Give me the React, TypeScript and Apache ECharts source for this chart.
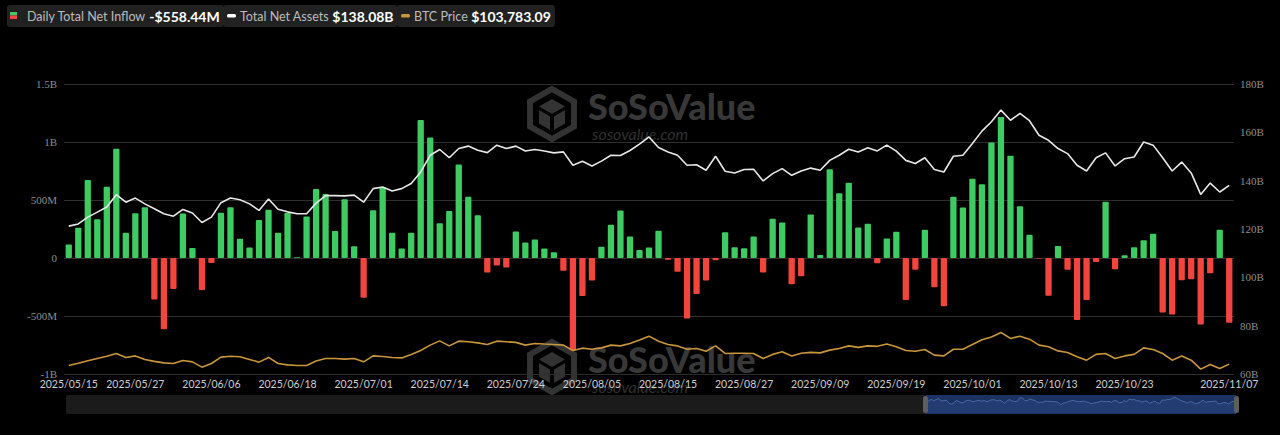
import React, { useEffect, useRef } from "react";
import * as echarts from "echarts";

const dates = [
  "2025/05/15","2025/05/16","2025/05/19","2025/05/20","2025/05/21","2025/05/22","2025/05/23","2025/05/27","2025/05/28","2025/05/29","2025/05/30",
  "2025/06/02","2025/06/03","2025/06/04","2025/06/05","2025/06/06","2025/06/09","2025/06/10","2025/06/11","2025/06/12","2025/06/13","2025/06/16","2025/06/17","2025/06/18","2025/06/20","2025/06/23","2025/06/24","2025/06/25","2025/06/26","2025/06/27","2025/06/30",
  "2025/07/01","2025/07/02","2025/07/03","2025/07/07","2025/07/08","2025/07/09","2025/07/10","2025/07/11","2025/07/14","2025/07/15","2025/07/16","2025/07/17","2025/07/18","2025/07/21","2025/07/22","2025/07/23","2025/07/24","2025/07/25","2025/07/28","2025/07/29","2025/07/30","2025/07/31",
  "2025/08/01","2025/08/04","2025/08/05","2025/08/06","2025/08/07","2025/08/08","2025/08/11","2025/08/12","2025/08/13","2025/08/14","2025/08/15","2025/08/18","2025/08/19","2025/08/20","2025/08/21","2025/08/22","2025/08/25","2025/08/26","2025/08/27","2025/08/28","2025/08/29",
  "2025/09/02","2025/09/03","2025/09/04","2025/09/05","2025/09/08","2025/09/09","2025/09/10","2025/09/11","2025/09/12","2025/09/15","2025/09/16","2025/09/17","2025/09/18","2025/09/19","2025/09/22","2025/09/23","2025/09/24","2025/09/25","2025/09/26","2025/09/29","2025/09/30",
  "2025/10/01","2025/10/02","2025/10/03","2025/10/06","2025/10/07","2025/10/08","2025/10/09","2025/10/10","2025/10/13","2025/10/14","2025/10/15","2025/10/16","2025/10/17","2025/10/20","2025/10/21","2025/10/22","2025/10/23","2025/10/24","2025/10/27","2025/10/28","2025/10/29","2025/10/30","2025/10/31",
  "2025/11/03","2025/11/04","2025/11/05","2025/11/06","2025/11/07",
];

// Daily total net inflow, in millions of USD
const netInflow = [
  116, 261, 672, 333, 615, 942, 217, 386, 438, -357,
  -615, -267, 383, 87, -275, -44, 391, 438, 165, 90,
  328, 417, 217, 391, 6, 357, 594, 551, 232, 507,
  101, -342, 412, 609, 217, 81, 217, 1189, 1038, 299,
  406, 806, 528, 368, -125, -64, -81, 229, 133, 159,
  81, 49, -110, -797, -328, -194, 96, 287, 409, 186,
  70, 90, 235, -15, -119, -522, -310, -194, -20, 223,
  93, 84, 186, -125, 339, 307, -226, -157, 374, 26,
  765, 559, 649, 264, 296, -46, 168, 226, -362, -101,
  243, -252, -415, 528, 435, 684, 635, 995, 1215, 882,
  447, 200, -4.5, -325, 104, -102, -534, -363, -35, 484,
  -96, 23, 93, 154, 209, -470, -487, -191, -183, -574,
  -131, 244, -558.44,
];

// Total net assets, in billions of USD
const netAssets = [
  121.2, 122.1, 124.9, 127.0, 129.1, 134.2, 131.1, 132.8, 130.4, 128.4,
  126.3, 125.3, 128.1, 126.6, 122.7, 124.9, 130.9, 132.8, 132.1, 130.4,
  127.7, 132.4, 128.2, 127.1, 126.3, 126.3, 130.7, 133.8, 133.8, 133.7,
  134.0, 131.1, 136.7, 137.4, 135.7, 136.7, 138.8, 143.6, 150.5, 152.9,
  149.5, 153.3, 154.3, 152.6, 151.6, 154.7, 153.3, 154.3, 152.3, 152.9,
  152.3, 151.5, 151.9, 146.4, 148.0, 146.1, 148.1, 150.5, 150.4, 152.5,
  155.1, 158.1, 153.7, 151.9, 150.5, 146.4, 146.6, 144.3, 150.1, 143.9,
  143.2, 144.6, 144.7, 139.9, 142.9, 145.0, 142.2, 144.0, 145.2, 144.3,
  148.4, 150.5, 153.0, 151.9, 153.6, 152.3, 154.7, 152.2, 148.4, 147.1,
  149.5, 144.6, 143.6, 150.1, 150.5, 155.4, 160.5, 164.4, 169.2, 165.0,
  167.8, 164.8, 158.8, 156.7, 153.3, 151.2, 146.4, 144.0, 149.5, 151.5,
  146.1, 149.1, 149.8, 156.0, 154.7, 149.5, 144.0, 147.7, 143.2, 134.3,
  139.0, 135.3, 138.08,
];

// BTC price, USD
const btcPrice = [
  102900, 104400, 106000, 107500, 109000, 110800, 108200, 109200, 106900, 105600,
  104600, 104200, 106200, 105300, 101800, 104200, 108400, 109000, 108600, 106900,
  105100, 108200, 104200, 103300, 102900, 102900, 105800, 107500, 107500, 107100,
  107500, 105300, 109200, 108800, 108200, 107900, 110200, 112800, 116300, 119100,
  115800, 118900, 118500, 117800, 116700, 118900, 118500, 118100, 116300, 117400,
  117000, 116700, 116300, 112800, 114300, 113600, 114500, 116300, 115800, 117400,
  119600, 122200, 118900, 116700, 115800, 113600, 114100, 112300, 115800, 110800,
  111000, 111000, 110800, 107500, 110200, 111900, 109200, 111000, 111500, 111200,
  113000, 114100, 115800, 114800, 115800, 115500, 117000, 115200, 112800, 112300,
  113400, 109700, 109200, 113600, 113600, 116700, 119800, 121700, 124600, 120700,
  122200, 120200, 116300, 115200, 112500, 111500, 108600, 106400, 110200, 110800,
  107500, 109200, 110200, 114500, 113400, 110800, 106400, 109200, 106400, 100500,
  103600, 100900, 103783.09,
];

const xTickLabels = [
  "2025/05/15","2025/05/27","2025/06/06","2025/06/18","2025/07/01","2025/07/14","2025/07/24","2025/08/05",
  "2025/08/15","2025/08/27","2025/09/09","2025/09/19","2025/10/01","2025/10/13","2025/10/23","2025/11/07",
];

const legendNames = ["Daily Total Net Inflow", "Total Net Assets", "BTC Price"];
const legendValues = ["-$558.44M", "$138.08B", "$103,783.09"];

const GREEN = "#3ecb61";
const RED = "#f2453d";
const WHITE_LINE = "#e8e8e8";
const GOLD = "#c9963c";

function fmtLeft(v: number) {
  if (v === 0) return "0";
  if (Math.abs(v) >= 1000) return v / 1000 + "B";
  return v + "M";
}

function watermark(x: number, y: number) {
  const c = "#333333";
  return {
    type: "group",
    x,
    y,
    z: 1,
    silent: true,
    children: [
      {
        type: "polygon",
        shape: { points: [[25, 3], [47, 15.5], [47, 40.5], [25, 53], [3, 40.5], [3, 15.5]] },
        style: { fill: "none", stroke: c, lineWidth: 6 },
      },
      {
        type: "polygon",
        shape: { points: [[25, 13], [38, 20.5], [25, 28], [12, 20.5]] },
        style: { fill: c },
      },
      {
        type: "polygon",
        shape: { points: [[12, 24], [23, 30.5], [23, 44], [12, 37.5]] },
        style: { fill: c },
      },
      {
        type: "polygon",
        shape: { points: [[38, 24], [27, 30.5], [27, 44], [38, 37.5]] },
        style: { fill: c },
      },
      {
        type: "text",
        x: 61,
        y: 2,
        style: { text: "SoSoValue", fill: "#383838", font: "900 36px Lato", textVerticalAlign: "top" },
      },
      {
        type: "text",
        x: 65,
        y: 39,
        style: { text: "sosovalue.com", fill: "#303030", font: "italic 16px Lato", textVerticalAlign: "top" },
      },
    ],
  };
}

function legendBox(x: number, i: number, padLeft: number) {
  return {
    type: "text",
    x,
    y: 5,
    z: 20,
    style: {
      text: `{l|${legendNames[i]}} {v|${legendValues[i]}}`,
      backgroundColor: "#212121",
      borderRadius: 3,
      padding: [3, 4, 3, padLeft],
      rich: {
        l: { fontSize: 12.5, fontFamily: "Lato", fill: "#bcbcbc", lineHeight: 16 },
        v: { fontSize: 14, fontFamily: "Lato", fontWeight: "bold", fill: "#ffffff", lineHeight: 16 },
      },
    },
  };
}

export default function App() {
  const ref = useRef<HTMLDivElement>(null);

  useEffect(() => {
    if (!ref.current) return;
    const chart = echarts.init(ref.current, null, { renderer: "svg" });

    const option: any = {
      animation: false,
      backgroundColor: "#000000",
      grid: [
        { left: 64, right: 46, top: 84, bottom: 61 },
        { left: 926, width: 310, top: 396, height: 17 },
      ],
      xAxis: [
        {
          type: "category",
          data: dates,
          gridIndex: 0,
          boundaryGap: true,
          axisLine: { show: false },
          axisTick: { show: false },
          axisLabel: {
            interval: (idx: number, val: string) => xTickLabels.includes(val),
            hideOverlap: false,
            color: "#cfcfcf",
            fontFamily: "Lato",
            fontSize: 10.5,
            margin: 4,
          },
          splitLine: { show: false },
        },
        {
          type: "category",
          data: dates,
          gridIndex: 1,
          boundaryGap: false,
          show: false,
        },
      ],
      yAxis: [
        {
          type: "value",
          gridIndex: 0,
          min: -1000,
          max: 1500,
          interval: 500,
          axisLine: { show: false },
          axisTick: { show: false },
          axisLabel: {
            formatter: fmtLeft,
            color: "#8e8e8e",
            fontFamily: "'Liberation Serif', 'DejaVu Serif', serif",
            fontSize: 11,
            margin: 7,
          },
          splitLine: { lineStyle: { color: "#2e2e2e", width: 1 } },
        },
        {
          type: "value",
          gridIndex: 0,
          position: "right",
          min: 60,
          max: 180,
          interval: 20,
          axisLine: { show: false },
          axisTick: { show: false },
          axisLabel: {
            formatter: (v: number) => v + "B",
            color: "#8e8e8e",
            fontFamily: "'Liberation Serif', 'DejaVu Serif', serif",
            fontSize: 11,
            margin: 6,
          },
          splitLine: { show: false },
        },
        {
          type: "value",
          gridIndex: 0,
          min: 97300,
          max: 288100,
          show: false,
          splitLine: { show: false },
        },
        {
          type: "value",
          gridIndex: 1,
          min: -3000,
          max: 1600,
          show: false,
        },
      ],
      series: [
        {
          name: legendNames[0],
          type: "bar",
          data: netInflow,
          xAxisIndex: 0,
          yAxisIndex: 0,
          barWidth: "66%",
          itemStyle: {
            color: (p: any) => (p.value >= 0 ? GREEN : RED),
            borderRadius: 1,
          },
          z: 2,
        },
        {
          name: legendNames[1],
          type: "line",
          data: netAssets,
          xAxisIndex: 0,
          yAxisIndex: 1,
          symbol: "none",
          lineStyle: { color: WHITE_LINE, width: 1.6 },
          itemStyle: { color: WHITE_LINE },
          z: 3,
        },
        {
          name: legendNames[2],
          type: "line",
          data: btcPrice,
          xAxisIndex: 0,
          yAxisIndex: 2,
          symbol: "none",
          lineStyle: { color: GOLD, width: 1.6 },
          itemStyle: { color: GOLD },
          z: 3,
        },
        {
          type: "line",
          data: netInflow,
          xAxisIndex: 1,
          yAxisIndex: 3,
          symbol: "none",
          silent: true,
          lineStyle: { color: "#4c6aa6", width: 1 },
          areaStyle: { color: "#27427a", origin: "start" },
          z: 6,
        },
      ],
      graphic: [
        watermark(527, 86),
        watermark(527, 339),
        {
          type: "rect",
          z: 4,
          silent: true,
          shape: { x: 66, y: 395, width: 1171, height: 19, r: 2 },
          style: { fill: "#1b1b1b" },
        },
        {
          type: "rect",
          z: 5,
          silent: true,
          shape: { x: 926, y: 395, width: 310, height: 19 },
          style: { fill: "#1b3262" },
        },
        {
          type: "rect",
          z: 7,
          silent: true,
          shape: { x: 923, y: 396, width: 5, height: 17, r: 2.5 },
          style: { fill: "#5e5e5e" },
        },
        {
          type: "rect",
          z: 7,
          silent: true,
          shape: { x: 1234, y: 396, width: 5, height: 17, r: 2.5 },
          style: { fill: "#5e5e5e" },
        },
        legendBox(7, 0, 20),
        legendBox(223, 1, 17),
        legendBox(397, 2, 17),
        {
          type: "rect",
          z: 21,
          shape: { x: 10, y: 12, width: 7, height: 3.5 },
          style: { fill: GREEN },
        },
        {
          type: "rect",
          z: 21,
          shape: { x: 10, y: 15.5, width: 7, height: 3.5 },
          style: { fill: RED },
        },
        {
          type: "rect",
          z: 21,
          shape: { x: 227, y: 14, width: 9, height: 3.5, r: 1.5 },
          style: { fill: "#ffffff" },
        },
        {
          type: "rect",
          z: 21,
          shape: { x: 401, y: 14, width: 9, height: 3.5, r: 1.5 },
          style: { fill: GOLD },
        },
      ],
    };

    chart.setOption(option);
    return () => chart.dispose();
  }, []);

  return (
    <div
      style={{ position: "fixed", left: 0, top: 0, width: 1280, height: 435, background: "#000" }}
    >
      <div ref={ref} style={{ width: 1280, height: 435 }} />
    </div>
  );
}
